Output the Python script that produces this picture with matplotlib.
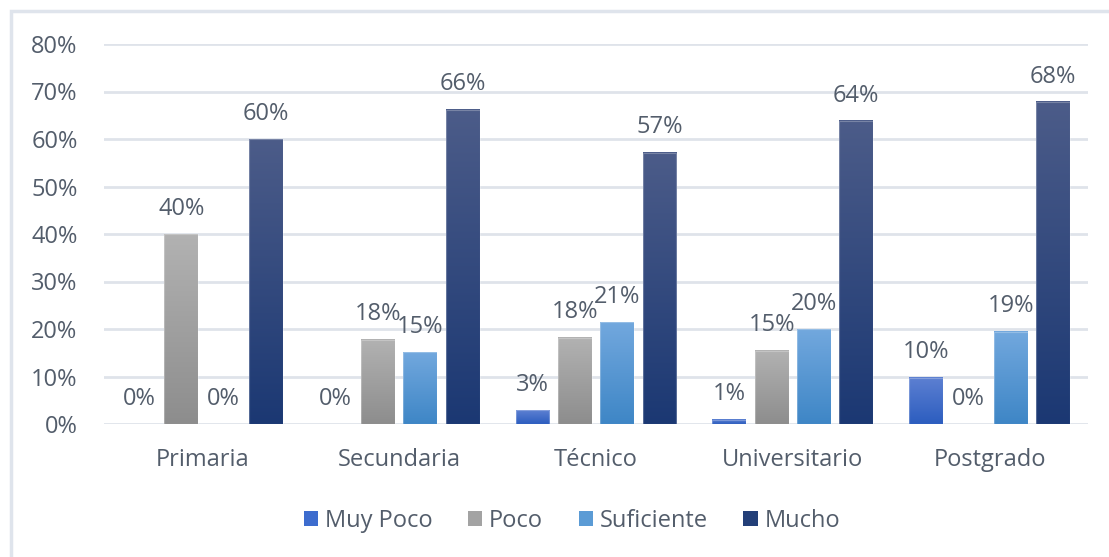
import numpy as np
import matplotlib.pyplot as plt
from matplotlib.colors import LinearSegmentedColormap
from matplotlib.patches import Rectangle, Patch

categories = ['Primaria', 'Secundaria', 'Técnico', 'Universitario', 'Postgrado']
series = ['Muy Poco', 'Poco', 'Suficiente', 'Mucho']
muy_poco = [0.0, 0.0, 2.9, 0.9, 9.7]
poco = [40.0, 17.7, 18.2, 15.4, 0.0]
suficiente = [0.0, 15.1, 21.4, 20.0, 19.4]
mucho = [60.0, 66.2, 57.1, 63.8, 67.8]
yticks = [0, 10, 20, 30, 40, 50, 60, 70, 80]

values = [muy_poco, poco, suficiente, mucho]
# (top colour, bottom colour) for the gradient of each series
grad = [('#5d80d2', '#2c5dbf'),
        ('#b2b2b2', '#8d8d8d'),
        ('#72a8de', '#3e86c6'),
        ('#4c5c89', '#1b3873')]
legend_cols = ['#3d6cce', '#a3a3a3', '#5b9bd5', '#233f78']

txt = '#535d6b'
fs = 17
plt.rcParams['font.family'] = ['Open Sans', 'DejaVu Sans']

fig = plt.figure(figsize=(11.09, 5.57), dpi=100)
ax = fig.add_axes([104 / 1109, 133 / 557, 984 / 1109, 380 / 557])

# chart frame (only left and top edges visible)
fig.patches.append(Rectangle((10.5 / 1109, -0.1), 1.2, (546.5 / 557) + 0.1,
                             transform=fig.transFigure, fill=False,
                             edgecolor='#dfe4ec', linewidth=2.5))

pitch = 0.215
width = 0.172
x = np.arange(len(categories))

for i, vals in enumerate(values):
    cmap = LinearSegmentedColormap.from_list('g%d' % i, [grad[i][0], grad[i][1]])
    pos = x + (i - 1.5) * pitch
    for xc, v in zip(pos, vals):
        if v > 0:
            g = np.linspace(0, 1, 256).reshape(-1, 1)
            ax.imshow(g, cmap=cmap, aspect='auto', origin='upper',
                      extent=[xc - width / 2, xc + width / 2, 0, v], zorder=3)
            ax.add_patch(Rectangle((xc - width / 2, 0), width, v, fill=False,
                                   edgecolor=(1, 1, 1, 0.25), linewidth=0.8, zorder=4))
        ax.annotate('%.0f%%' % v, (xc, v), xytext=(0, 14), textcoords='offset points',
                    ha='center', va='baseline', fontsize=fs, color=txt, zorder=5)

ax.set_xlim(-0.5, len(categories) - 0.5)
ax.set_ylim(0, 80)
ax.set_yticks(yticks)
ax.set_yticklabels(['%d%%' % t for t in yticks])
ax.set_xticks(x)
ax.set_xticklabels(categories)
ax.tick_params(axis='both', length=0, labelsize=fs, labelcolor=txt)
ax.tick_params(axis='y', pad=19)
ax.tick_params(axis='x', pad=17)
ax.grid(axis='y', color='#dfe3ea', linewidth=2)
ax.set_axisbelow(True)
for s in ax.spines.values():
    s.set_visible(False)

handles = [Patch(facecolor=c, edgecolor='none') for c in legend_cols]
fig.legend(handles, series, loc='center', bbox_to_anchor=(572 / 1109, 1 - 521 / 557),
           ncol=4, frameon=False, fontsize=fs, handlelength=0.6, handleheight=0.6,
           handletextpad=0.3, columnspacing=1.5, labelcolor=txt)

fig.savefig('out.png', dpi=100)
